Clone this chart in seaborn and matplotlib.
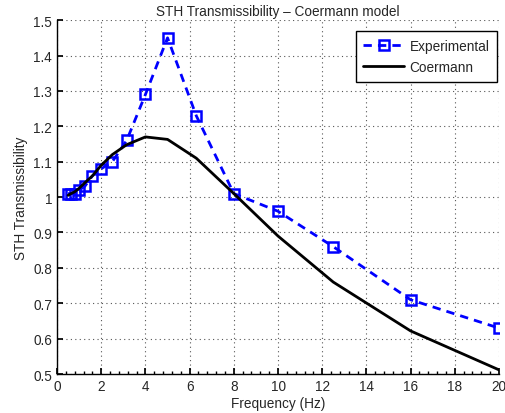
import matplotlib
matplotlib.use("Agg")
import matplotlib.pyplot as plt
from matplotlib.ticker import MultipleLocator
import seaborn as sns
import pandas as pd

freq = [0.5, 0.63, 0.8, 1.0, 1.25, 1.6, 2.0, 2.5, 3.15, 4.0, 5.0, 6.3, 8.0, 10.0, 12.5, 16.0, 20.0]
experimental = [1.01, 1.01, 1.01, 1.02, 1.03, 1.06, 1.08, 1.10, 1.16, 1.29, 1.45, 1.23, 1.01, 0.96, 0.86, 0.71, 0.63]
coermann = [1.005, 1.01, 1.015, 1.025, 1.04, 1.06, 1.09, 1.12, 1.148, 1.17, 1.163, 1.11, 1.01, 0.89, 0.76, 0.622, 0.512]
xticks = [0, 2, 4, 6, 8, 10, 12, 14, 16, 18, 20]
yticks = [0.5, 0.6, 0.7, 0.8, 0.9, 1.0, 1.1, 1.2, 1.3, 1.4, 1.5]
ytick_labels = ["0.5", "0.6", "0.7", "0.8", "0.9", "1", "1.1", "1.2", "1.3", "1.4", "1.5"]

df = pd.DataFrame({"freq": freq, "Experimental": experimental, "Coermann": coermann})

sns.set_theme(style="white")
plt.rcParams['font.family'] = ['Liberation Sans', 'DejaVu Sans']

fig = plt.figure(figsize=(5.05, 4.14), dpi=100)
ax = fig.add_axes([0.113, 0.094, 0.875, 0.855])

sns.lineplot(data=df, x="freq", y="Experimental", ax=ax, color="#0000ff",
             linestyle=(0, (3, 2.2)), linewidth=2, marker="s", markersize=7.5,
             markerfacecolor="none", markeredgecolor="#0000ff", markeredgewidth=1.8,
             label="Experimental")
sns.lineplot(data=df, x="freq", y="Coermann", ax=ax, color="black",
             linewidth=2, label="Coermann")

ax.set_xticks(xticks)
ax.set_xticklabels([str(v) for v in xticks])
ax.xaxis.set_minor_locator(MultipleLocator(0.4))
ax.set_yticks(yticks)
ax.set_yticklabels(ytick_labels)
ax.set_xlim(0, 20)
ax.set_ylim(0.5, 1.5)
ax.grid(True, which="major", linestyle=(0, (1, 3)), color="#555555", linewidth=0.8)
ax.tick_params(axis="both", which="major", direction="in", length=4, labelsize=9.8, color="black", pad=3.5)
ax.tick_params(axis="x", which="minor", direction="in", length=2, color="black", bottom=True)
ax.tick_params(left=True, bottom=True)
for s in ["top", "right"]:
    ax.spines[s].set_visible(False)
for s in ["left", "bottom"]:
    ax.spines[s].set_color("black")
    ax.spines[s].set_linewidth(1.0)

ax.set_title("STH Transmissibility \u2013 Coermann model", fontsize=9.8, pad=4)
ax.set_xlabel("Frequency (Hz)", fontsize=9.8, labelpad=2)
ax.set_ylabel("STH Transmissibility", fontsize=9.8, labelpad=4)

leg = ax.legend(loc="upper right", bbox_to_anchor=(0.9955, 0.969), fontsize=9.8, frameon=True,
                fancybox=False, edgecolor="black", handlelength=3.0, borderpad=0.55,
                labelspacing=0.55, handletextpad=0.4, borderaxespad=0)
leg.get_frame().set_linewidth(1.0)
leg.get_frame().set_facecolor("white")
leg.get_frame().set_alpha(1)

fig.savefig("out.png", dpi=100)
